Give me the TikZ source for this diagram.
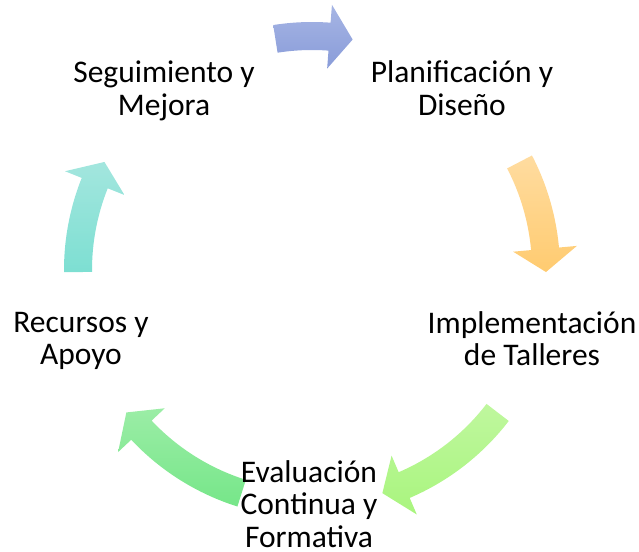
\documentclass[tikz,border=0pt]{standalone}
\usepackage{fontspec}
\setmainfont{Carlito}
\definecolor{azulA}{HTML}{A6B5E4}
\definecolor{azulB}{HTML}{899CD9}
\definecolor{naranjaA}{HTML}{FFDCA0}
\definecolor{naranjaB}{HTML}{FFCB70}
\definecolor{limaA}{HTML}{BFF79E}
\definecolor{limaB}{HTML}{A9F57E}
\definecolor{verdeA}{HTML}{9BEDA6}
\definecolor{verdeB}{HTML}{76E689}
\definecolor{turquesaA}{HTML}{A3E6DE}
\definecolor{turquesaB}{HTML}{7DDFD2}
\begin{document}
\begin{tikzpicture}[x=1pt,y=1pt,
    paso/.style={align=center,anchor=base,inner sep=0pt,
        font=\fontsize{31.5}{32.5}\selectfont}]
    \useasboundingbox (-312,-281) rectangle (327,270);
    \coordinate (O) at (0,0);
    %\draw[gray!30] (O) circle (234);
    \foreach \a/\b/\ca/\cb in {99/80/azulA/azulB,
        27.5/-0.5/naranjaA/naranjaB,
        -37.5/-72.5/limaA/limaB,
        -107.5/-142.5/verdeA/verdeB,
        180.5/152.5/turquesaA/turquesaB}
    \shade[top color=\ca,bottom color=\cb]
        (\a:248) arc[start angle=\a,end angle=\b+5.7,radius=248]
        -- (\b+5.7:266) -- (\b:234) -- (\b+5.7:202) -- (\b+5.7:220)
        arc[start angle=\b+5.7,end angle=\a,radius=220] -- cycle;
    \node[paso] (seguimiento) at (-148,154.5) {Seguimiento y\\Mejora};
    \node[paso] (planificacion) at (150,154.5) {Planificación y\\Diseño};
    \node[paso] (implementacion) at (220,-95.5) {Implementación\\de Talleres};
    \node[paso] (evaluacion) at (-3,-277) {Evaluación\\Continua y\\Formativa};
    \node[paso] (recursos) at (-231,-94.5) {Recursos y\\Apoyo};
\end{tikzpicture}
\end{document}
